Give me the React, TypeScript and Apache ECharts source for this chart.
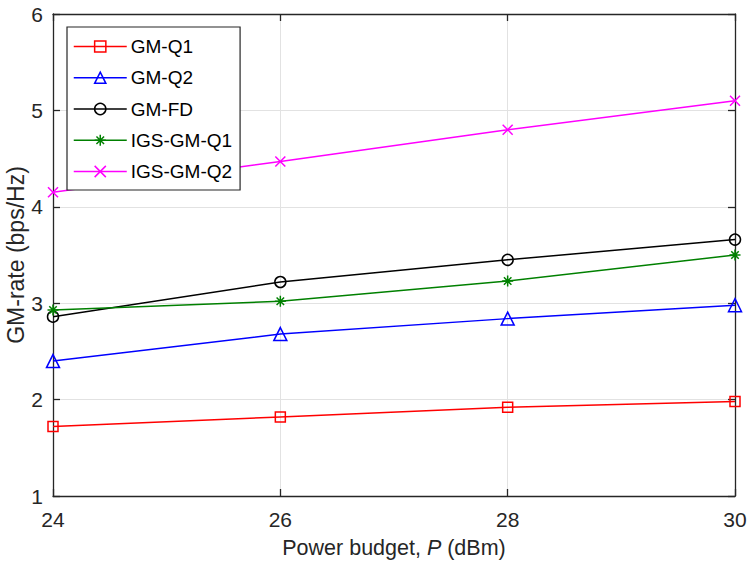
import React, { useEffect, useRef } from "react";
import * as echarts from "echarts";

const powerBudget = [24, 26, 28, 30];
const gmQ1 = [1.72, 1.82, 1.92, 1.98];
const gmQ2 = [2.4, 2.68, 2.84, 2.98];
const gmFD = [2.86, 3.22, 3.45, 3.66];
const igsGmQ1 = [2.93, 3.02, 3.23, 3.5];
const igsGmQ2 = [4.15, 4.47, 4.8, 5.1];

const seriesNames = ["GM-Q1", "GM-Q2", "GM-FD", "IGS-GM-Q1", "IGS-GM-Q2"];
const seriesColors = ["#ff0000", "#0000ff", "#000000", "#008000", "#ff00ff"];
const seriesData = [gmQ1, gmQ2, gmFD, igsGmQ1, igsGmQ2];

const ASTERISK = "path://M5,0L5,10M0,5L10,5M1.6,1.6L8.4,8.4M8.4,1.6L1.6,8.4";
const CROSS = "path://M0,0L10,10M10,0L0,10";
const seriesSymbols = ["rect", "triangle", "circle", ASTERISK, CROSS];
const seriesSymbolSizes = [10, 13, 11, 11, 10];

const FONT = "Liberation Sans, Arial, Helvetica, sans-serif";
const AXIS_COLOR = "#262626";

export default function App() {
  const ref = useRef<HTMLDivElement>(null);

  useEffect(() => {
    if (!ref.current) return;
    const chart = echarts.init(ref.current, undefined, { renderer: "svg" });

    const series = seriesNames.map((name, i) => ({
      name,
      type: "line",
      data: powerBudget.map((x, j) => [x, seriesData[i][j]]),
      symbol: seriesSymbols[i],
      symbolSize: seriesSymbolSizes[i],
      showAllSymbol: true,
      lineStyle: { color: seriesColors[i], width: 1.5 },
      itemStyle: {
        color: "rgba(0,0,0,0)",
        borderColor: seriesColors[i],
        borderWidth: 1.5,
      },
      emphasis: { disabled: true },
      z: 3,
    }));

    const axisCommon = {
      axisLine: { show: true, onZero: false, lineStyle: { color: AXIS_COLOR, width: 1.3 } },
      axisTick: { show: true, inside: true, length: 7, lineStyle: { color: AXIS_COLOR, width: 1.3 } },
    };

    chart.setOption({
      animation: false,
      backgroundColor: "#ffffff",
      textStyle: { fontFamily: FONT },
      grid: {
        left: 53,
        right: 12,
        top: 14,
        bottom: 65,
        containLabel: false,
        outerBoundsMode: "none",
      },
      legend: {
        show: true,
        orient: "vertical",
        left: 67,
        top: 27,
        width: 172,
        padding: [10, 8, 9, 6],
        itemWidth: 53,
        itemHeight: 14,
        itemGap: 12.25,
        backgroundColor: "#ffffff",
        borderColor: AXIS_COLOR,
        borderWidth: 1.2,
        borderRadius: 0,
        selectedMode: false,
        textStyle: { fontFamily: FONT, fontSize: 19, color: "#000000", padding: [0, 0, 0, -1] },
        data: seriesNames.map((name, i) => ({
          name,
          itemStyle: {
            color: "rgba(0,0,0,0)",
            borderColor: seriesColors[i],
            borderWidth: 1.5,
          },
          lineStyle: { color: seriesColors[i], width: 1.5 },
        })),
        z: 10,
      },
      xAxis: [
        {
          type: "value",
          min: 24,
          max: 30,
          interval: 2,
          position: "bottom",
          ...axisCommon,
          axisLabel: { color: AXIS_COLOR, fontSize: 21, margin: 13, fontFamily: FONT },
          splitLine: { show: true, lineStyle: { color: "#e2e2e2", width: 1 } },
          name: "{a|Power budget, }{i|P}{a| (dBm)}",
          nameLocation: "middle",
          nameGap: 41,
          nameMoveOverlap: false,
          nameTextStyle: {
            color: AXIS_COLOR,
            fontSize: 21.5,
            fontFamily: FONT,
            rich: {
              a: { fontSize: 21.5, color: AXIS_COLOR, fontFamily: FONT },
              i: { fontSize: 21.5, color: AXIS_COLOR, fontFamily: FONT, fontStyle: "italic" },
            },
          },
        },
        {
          type: "value",
          min: 24,
          max: 30,
          interval: 2,
          position: "top",
          ...axisCommon,
          axisLabel: { show: false },
          splitLine: { show: false },
        },
      ],
      yAxis: [
        {
          type: "value",
          min: 1,
          max: 6,
          interval: 1,
          position: "left",
          ...axisCommon,
          axisLabel: { color: AXIS_COLOR, fontSize: 21, margin: 10, fontFamily: FONT },
          splitLine: { show: true, lineStyle: { color: "#e2e2e2", width: 1 } },
          name: "GM-rate (bps/Hz)",
          nameLocation: "middle",
          nameGap: 26,
          nameRotate: 90,
          nameMoveOverlap: false,
          nameTextStyle: { color: AXIS_COLOR, fontSize: 23, fontFamily: FONT },
        },
        {
          type: "value",
          min: 1,
          max: 6,
          interval: 1,
          position: "right",
          ...axisCommon,
          axisLabel: { show: false },
          splitLine: { show: false },
        },
      ],
      series,
    });

    return () => chart.dispose();
  }, []);

  return (
    <div
      ref={ref}
      style={{ position: "absolute", left: 0, top: 0, width: 747, height: 561, background: "#fff" }}
    />
  );
}
